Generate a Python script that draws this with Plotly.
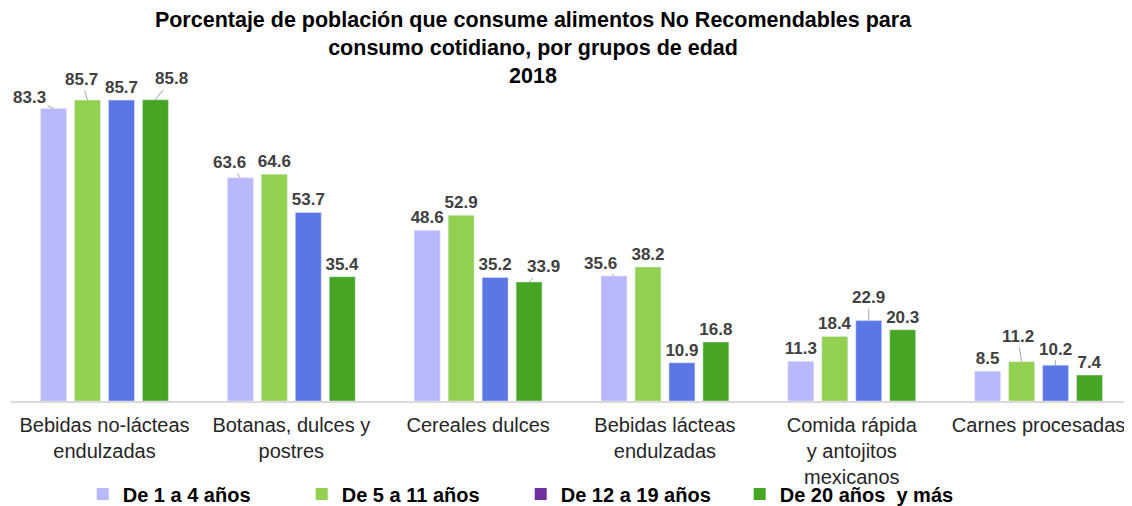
import plotly.graph_objects as go

categorias = ["Bebidas no-lácteas<br>endulzadas", "Botanas, dulces y<br>postres", "Cereales dulces",
              "Bebidas lácteas<br>endulzadas", "Comida rápida<br>y antojitos<br>mexicanos", "Carnes procesadas"]
series = ["De 1 a 4 años", "De 5 a 11 años", "De 12 a 19 años", "De 20 años  y más"]
edad_1_4 = [83.3, 63.6, 48.6, 35.6, 11.3, 8.5]
edad_5_11 = [85.7, 64.6, 52.9, 38.2, 18.4, 11.2]
edad_12_19 = [85.7, 53.7, 35.2, 10.9, 22.9, 10.2]
edad_20_mas = [85.8, 35.4, 33.9, 16.8, 20.3, 7.4]

valores = [edad_1_4, edad_5_11, edad_12_19, edad_20_mas]
colores_barra = ["#b8b8fc", "#92d050", "#5b77e6", "#46a623"]
colores_leyenda = ["#b8b8fc", "#92d050", "#7030a0", "#46a623"]

# labels pulled away from the bar with a leader line: (serie, categoria) -> (ax, ay)
desplazados = {(0, 0): (-24, -11), (1, 0): (-6, -21), (3, 0): (16, -21),
               (0, 1): (-11, -15), (3, 2): (14, -15), (0, 3): (-13, -13),
               (2, 4): (0, -23), (1, 5): (-4, -25), (2, 5): (0, -16)}

paso = 34  # px between bars inside a group
fuente_etiqueta = dict(size=17, color="#404040", family="Liberation Sans")

fig = go.Figure()
for i, (nombre, vals) in enumerate(zip(series, valores)):
    textos = ["" if (i, j) in desplazados else f"{v:.1f}" for j, v in enumerate(vals)]
    fig.add_trace(go.Bar(
        x=categorias, y=vals, name=nombre, marker_color=colores_barra[i],
        text=textos, textposition="outside", cliponaxis=False, constraintext="none",
        texttemplate="<b>%{text}</b>", textfont=fuente_etiqueta,
        showlegend=False,
    ))
    fig.add_trace(go.Scatter(
        x=[None], y=[None], mode="markers", name=f"<b>{nombre}</b>",
        marker=dict(symbol="square", size=12, color=colores_leyenda[i]),
    ))

for (i, j), (ax, ay) in desplazados.items():
    v = valores[i][j]
    fig.add_annotation(
        x=categorias[j], y=v, text=f"<b>{v:.1f}</b>", xshift=(i - 1.5) * paso,
        showarrow=True, arrowhead=0, arrowwidth=1, arrowcolor="#a6a6a6",
        ax=ax, ay=ay, font=fuente_etiqueta,
    )

# the page body adds 8px of margin, so the layout is placed 8px up and left
fig.update_layout(
    width=1132, height=506,
    margin=dict(l=3, r=8, t=77, b=113, autoexpand=False),
    paper_bgcolor="white", plot_bgcolor="white",
    barmode="group", bargap=0.273, bargroupgap=0.235,
    font=dict(family="Liberation Sans", color="#404040"),
    title=dict(
        text="<b>Porcentaje de población que consume alimentos No Recomendables para<br>"
             "consumo cotidiano, por grupos de edad<br>2018</b>",
        x=0.4638, xanchor="center", y=0.962, yanchor="top",
        font=dict(size=21.5, color="black", family="Liberation Sans"),
    ),
    xaxis=dict(showline=True, linecolor="#d9d9d9", linewidth=1.5, ticks="", automargin=False,
               ticklabelstandoff=5, tickfont=dict(size=20, color="#262626")),
    yaxis=dict(visible=False, range=[0, 90], showgrid=False, automargin=False),
    legend=dict(orientation="h", xref="container", yref="container",
                x=0.066, xanchor="left", y=0.0395, yanchor="middle",
                bgcolor="rgba(0,0,0,0)",
                font=dict(size=20, color="black"), entrywidth=174, entrywidthmode="pixels",
                itemwidth=30),
)

fig.write_html("out.html")
